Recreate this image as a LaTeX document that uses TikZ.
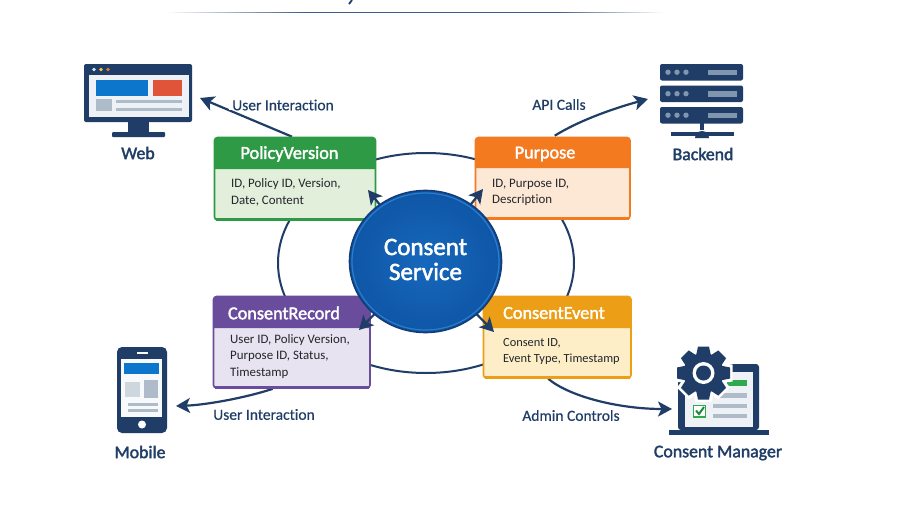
\documentclass[tikz,border=0pt]{standalone}
\usepackage{fontspec}
\setmainfont{Carlito}[Ligatures=NoCommon]
\newfontfamily\semib{Carlito}[FakeBold=2,Ligatures=NoCommon]
\newfontfamily\medw{Carlito}[FakeBold=0.5,Ligatures=NoCommon]
\usetikzlibrary{arrows.meta,shapes.geometric,backgrounds}
\definecolor{navy}{HTML}{1F3D66}
\definecolor{ink}{HTML}{23262B}
\definecolor{greenA}{HTML}{2F9A46}\definecolor{greenB}{HTML}{E2EFDB}
\definecolor{orangeA}{HTML}{F47A20}\definecolor{orangeB}{HTML}{FDE8D6}
\definecolor{purpleA}{HTML}{6A4C9C}\definecolor{purpleB}{HTML}{E8E3F0}
\definecolor{amberA}{HTML}{EC9E16}\definecolor{amberB}{HTML}{FDEEC8}
\definecolor{greyA}{HTML}{AEBBC8}\definecolor{greyB}{HTML}{EEF1F5}
\definecolor{greyC}{HTML}{7F96AE}
\definecolor{blueA}{HTML}{0B76CC}
\definecolor{redA}{HTML}{E0553A}
\definecolor{dotA}{HTML}{CFE6F7}\definecolor{dotB}{HTML}{F0C93A}\definecolor{dotC}{HTML}{E07A3A}
\definecolor{checkA}{HTML}{2FA84F}\definecolor{checkB}{HTML}{1E8A3E}
\definecolor{svcIn}{HTML}{1668BC}\definecolor{svcOut}{HTML}{0F56A6}
\definecolor{svcRim}{HTML}{123E78}\definecolor{svcRing}{HTML}{2A7CD0}
\definecolor{ruleC}{HTML}{3F5F8A}
\tikzset{
  conn/.style={draw=navy,line width=2.2pt,-{Stealth[length=14pt,width=15pt,inset=3.5pt]}},
  ringline/.style={draw=navy,line width=2pt},
  lbl/.style={text=navy,font=\medw\fontsize{15.5}{17}\selectfont,inner sep=1pt},
  iconlbl/.style={text=navy,font=\semib\fontsize{17.8}{19}\selectfont,inner sep=0pt},
  headtxt/.style={text=white,font=\semib\fontsize{18.2}{19}\selectfont,inner sep=0pt},
  bodytxt/.style={text=ink,font=\fontsize{12.9}{16.5}\selectfont,align=left,anchor=west,inner sep=0pt},
}
\newcommand{\entitybox}[8]{% name x1 y1 x2 y2 yh main light
  \pgfmathsetmacro{\cxv}{(#2+#4)/2}\pgfmathsetmacro{\cyv}{(#3+#5)/2}
  \pgfmathsetmacro{\wv}{#4-#2}\pgfmathsetmacro{\hv}{#5-#3}
  \node[draw=#7,fill=#8,line width=1.6pt,rounded corners=3pt,minimum width=\wv pt,minimum height=\hv pt,inner sep=0pt] (#1) at (\cxv,\cyv) {};
  \fill[#7] (#2,#6) {[rounded corners=3pt] -- (#2,#3) -- (#4,#3)} -- (#4,#6) -- cycle;
  \draw[#7,line width=3pt] (#2+1.5,#5-.5) -- (#4-1.5,#5-.5);
}
\begin{document}
\begin{tikzpicture}[x=1pt,y=-1pt]
\useasboundingbox (0,0) rectangle (900,506);
\begin{scope}[on background layer]
\fill[white] (0,0) rectangle (900,506);
\end{scope}
% title rule and cut-off title tail
\fill[ruleC] (300,11.5) rectangle (560,13);
\foreach \st in {0,4,...,96}{
  \fill[ruleC!\st!white] ({163+\st*1.37},11.5) rectangle ({163+(\st+4)*1.37+.3},13);
  \fill[ruleC!\st!white] ({667-\st*1.07},11.5) rectangle ({667-(\st+4)*1.07-.3},13);
}
\draw[navy,line width=1.8pt] (352,0) -- (349,4);
% ring behind the boxes
\draw[ringline] (426,263) ellipse (148 and 110);
% named ends
\coordinate (webend) at (200,98);
\coordinate (backendend) at (648,99);
\coordinate (mobileend) at (176,406);
\coordinate (managerend) at (672,409);
\coordinate (tipPV) at (368,190);
\coordinate (tipPU) at (483,189);
\coordinate (tipCR) at (359,330);
\coordinate (tipCE) at (494,332);
% boxes
\entitybox{pv}{214.5}{137.5}{375.5}{220}{169}{greenA}{greenB}
\entitybox{pu}{475.5}{137.5}{630}{219}{168}{orangeA}{orangeB}
\entitybox{cr}{213.5}{296.5}{370}{388}{328}{purpleA}{purpleB}
\entitybox{ce}{483.5}{296.5}{631}{378}{328}{amberA}{amberB}
% external connectors
\begin{scope}[on background layer]
\draw[conn] (pv.north) ++(-3,0) -- (webend);
\draw[conn] (pu.north) ++(2,-1) .. controls (580,120) and (615,108) .. (backendend);
\draw[conn] (cr.south) ++(-19,0) .. controls (245,398) and (205,405) .. (mobileend);
\draw[conn] (ce.south) ++(-9,0) .. controls (570,397) and (620,409) .. (managerend);
\end{scope}
\node[lbl,fill=white,inner xsep=3pt,inner ysep=0pt] (l1) at (283,105) {User Interaction};
\node[lbl] (l2) at (559,104.5) {API Calls};
\node[lbl] (l3) at (264,414.5) {User Interaction};
\node[lbl] (l4) at (571,415.5) {Admin Controls};
% box text
\node[headtxt] (t1) at (289.5,154) {PolicyVersion};
\node[headtxt] (t2) at (545,154) {Purpose};
\node[headtxt] (t3) at (284,313) {ConsentRecord};
\node[headtxt] (t4) at (554,313) {ConsentEvent};
\node[bodytxt] (b1) at (231,192.5) {ID, Policy ID, Version,\\Date, Content};
\node[bodytxt] (b2) at (492,192.5) {ID, Purpose ID,\\Description};
\node[bodytxt] (b3) at (230,356.5) {User ID, Policy Version,\\Purpose ID, Status,\\Timestamp};
\node[bodytxt,font=\fontsize{12.4}{16.5}\selectfont] (b4) at (503,351.5) {Consent ID,\\Event Type, Timestamp};
% service node geometry and connectors
\node[ellipse,minimum width=152pt,minimum height=142pt,inner sep=0pt] (svc) at (425.5,261.5) {};
\draw[conn] (svc.center) -- (tipPV);
\draw[conn] (svc.center) -- (tipPU);
\draw[conn] (svc.center) -- (tipCR);
\draw[conn] (svc.center) -- (tipCE);
\node[ellipse,draw=svcRim,line width=1.6pt,inner color=svcIn,outer color=svcOut,minimum width=152pt,minimum height=142pt,inner sep=0pt] (svcface) at (svc.center) {};
\draw[svcRing,line width=1.2pt] (svc.center) ellipse (73.5 and 68.5);
\node[text=white,align=center,inner sep=0pt,font=\semib\fontsize{25}{25}\selectfont] (svctext) at (425.5,259.5) {Consent\\Service};
% ---- Web icon
\fill[navy,rounded corners=2pt] (84,64) rectangle (192,122);
\fill[greyB] (89,75) rectangle (189,117);
\fill[blueA] (96,80) rectangle (148,96);
\fill[redA] (153,80) rectangle (182,96);
\fill[greyA] (96,99) rectangle (112,111);
\fill[greyA] (116,99.5) rectangle (182,103);
\fill[greyA] (116,107.5) rectangle (182,111);
\fill[dotA] (94,69.5) circle (1.9);
\fill[dotB] (101,69.5) circle (1.9);
\fill[dotC] (108,69.5) circle (1.9);
\fill[navy] (128,122) rectangle (149,132);
\fill[navy,rounded corners=1pt] (112,132) rectangle (165,137);
\node[iconlbl] (web) at (138,153) {Web};
% ---- Backend icon
\foreach \yy in {64,85.5,107}{
  \fill[navy,rounded corners=2pt] (660,\yy) rectangle (743,\yy+16.5);
  \foreach \xx in {668,677,686}{\fill[greyC] (\xx,\yy+8.2) circle (2.7);}
  \fill[greyC] (708,\yy+5.7) rectangle (737,\yy+11);
}
\fill[navy] (671,132) rectangle (734,135.5);
\fill[navy] (700,123) rectangle (704,130);
\fill[navy] (695,138) arc[start angle=180,end angle=360,radius=7] -- cycle;
\node[iconlbl] (backend) at (703,154) {Backend};
% ---- Mobile icon
\fill[navy,rounded corners=5pt] (117,347) rectangle (167,433);
\fill[greyB!40!white] (121,359) rectangle (162,417);
\fill[blueA] (124,363) rectangle (159,374);
\fill[greyA!60!white] (125,382) rectangle (140,397);
\fill[greyA] (144,380) rectangle (158,398);
\fill[greyA] (128,403) rectangle (157.5,406);
\fill[greyA] (128,409) rectangle (157.5,412);
\fill[white] (137,352.3) rectangle (148,353.8);
\fill[white] (142,424.5) circle (4);
\node[iconlbl] (mobile) at (140,452) {Mobile};
% ---- Consent Manager icon
\fill[navy,rounded corners=3pt] (678,430) -- (678,364) -- (759,364) -- (759,430) -- cycle;
\fill[navy] (669,430) rectangle (769,435);
\fill[greyB] (685,372) rectangle (753,427);
\fill[checkA] (727,380) rectangle (747,386);
\fill[greyA] (720,393) rectangle (747,398);
\fill[greyA] (713,404) rectangle (747,408);
\fill[greyA] (713,414) rectangle (747,418);
\draw[checkA,fill=white,line width=1.8pt] (693.5,405.5) rectangle (705.5,417);
\draw[checkB,line width=2pt] (696,410.5) -- (699,414) -- (704,407);
% gear
\begin{scope}[shift={(703.5,373)}]
  \foreach \aa in {0,45,...,315}{
    \fill[white,rotate=\aa] (-8.5,-29) -- (8.5,-29) -- (10,-17) -- (-10,-17) -- cycle;
  }
  \fill[white] (0,0) circle (23);
  \foreach \aa in {0,45,...,315}{
    \fill[navy,rotate=\aa] (-5.5,-26.5) -- (5.5,-26.5) -- (7.5,-17) -- (-7.5,-17) -- cycle;
  }
  \fill[navy] (0,0) circle (20);
  \fill[white] (0,0) circle (11);
  \fill[navy] (0,0) circle (7.5);
\end{scope}
\node[iconlbl] (manager) at (718,453) {Consent Manager};
\end{tikzpicture}
\end{document}
